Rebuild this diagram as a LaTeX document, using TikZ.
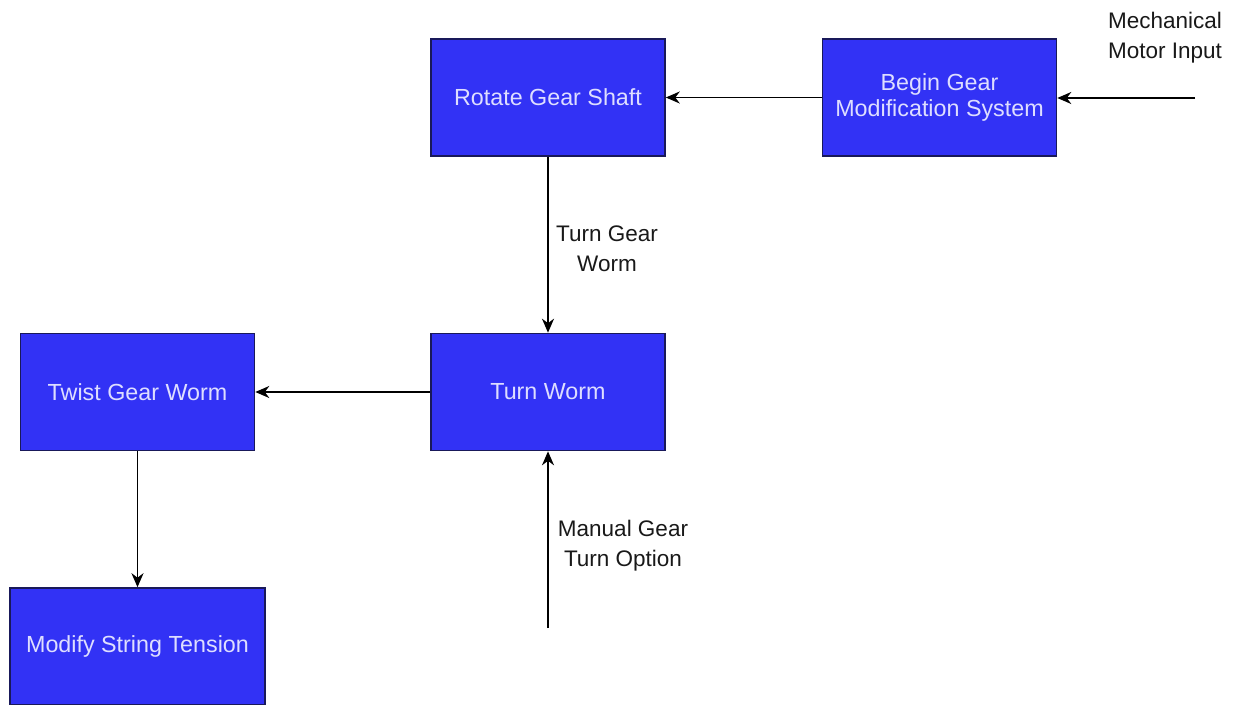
\documentclass[tikz,border=0pt]{standalone}
\usepackage{fontspec}
\setmainfont{Liberation Sans}
\usetikzlibrary{arrows.meta}
\definecolor{boxfill}{RGB}{50,50,245}
\definecolor{boxline}{RGB}{25,25,90}
\definecolor{boxtext}{RGB}{222,222,255}
\definecolor{lbltext}{RGB}{25,25,25}
\begin{document}
\begin{tikzpicture}[x=1pt,y=-1pt,
  blk/.style={draw=boxline,fill=boxfill,line width=1.6pt,minimum width=234pt,minimum height=117pt,
    text=boxtext,font=\fontsize{23.3}{26}\selectfont,align=center,inner sep=0pt},
  lbl/.style={text=lbltext,font=\fontsize{22.5}{30}\selectfont,align=center,inner sep=0pt},
  conn/.style={draw=black,line width=1.8pt,-{Stealth[length=14pt,width=12pt,inset=4.5pt]}}]
\useasboundingbox (0,0) rectangle (1241,704);
\node[blk] (rot) at (548,97.5) {Rotate Gear Shaft};
\node[blk] (beg) at (939.5,97.5) {Begin Gear\\Modification System};
\node[blk] (tw) at (548,392) {Turn Worm};
\node[blk] (tg) at (137.5,392) {Twist Gear Worm};
\node[blk,minimum width=255pt] (mod) at (137.5,646.5) {Modify String Tension};
\coordinate (mi) at (1195,98);
\coordinate (mg) at (548,628);
\node[lbl] (lmi) at (1165,38) {Mechanical\\Motor Input};
\node[lbl] (ltg) at (607,249) {Turn Gear\\Worm};
\node[lbl] (lmg) at (623,546) {Manual Gear\\Turn Option};
\draw[conn] (mi) -- (beg.east |- mi);
\draw[conn] (beg.west |- rot) -- (rot.east);
\draw[conn] (rot.south) -- (tw.north);
\draw[conn] (tw.west) -- (tg.east);
\draw[conn] (tg.south) -- (mod.north -| tg.south);
\draw[conn] (mg) -- (tw.south);
\end{tikzpicture}
\end{document}
